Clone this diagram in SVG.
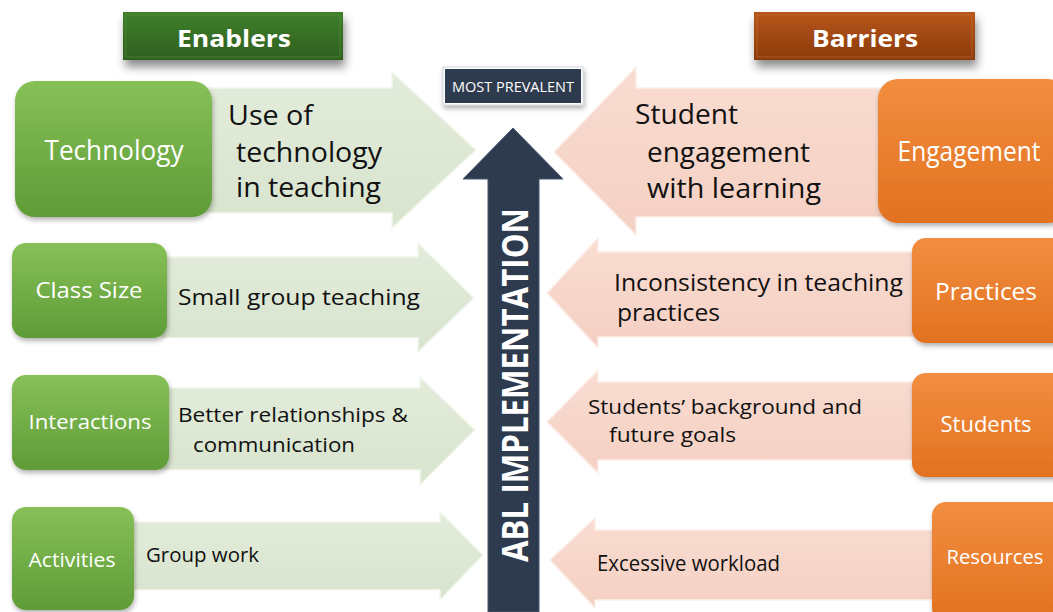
<svg xmlns="http://www.w3.org/2000/svg" width="1053" height="612" viewBox="0 0 1053 612">
<defs>
  <linearGradient id="gGreen" x1="0" y1="0" x2="0" y2="1">
    <stop offset="0" stop-color="#86c057"/>
    <stop offset="1" stop-color="#5f9c37"/>
  </linearGradient>
  <linearGradient id="gOrange" x1="0" y1="0" x2="0" y2="1">
    <stop offset="0" stop-color="#f28d40"/>
    <stop offset="1" stop-color="#e2721f"/>
  </linearGradient>
  <linearGradient id="gBanG" x1="0" y1="0" x2="0" y2="1">
    <stop offset="0" stop-color="#3f7f2c"/>
    <stop offset="1" stop-color="#2f5f1f"/>
  </linearGradient>
  <linearGradient id="gBanO" x1="0" y1="0" x2="0" y2="1">
    <stop offset="0" stop-color="#b7561a"/>
    <stop offset="1" stop-color="#8c3a0a"/>
  </linearGradient>
  <linearGradient id="gArrG" x1="0" y1="0" x2="0" y2="1">
    <stop offset="0" stop-color="#e3ecdb"/>
    <stop offset="1" stop-color="#d8e4ce"/>
  </linearGradient>
  <linearGradient id="gArrP" x1="0" y1="0" x2="0" y2="1">
    <stop offset="0" stop-color="#f9dcd1"/>
    <stop offset="1" stop-color="#f5d0c3"/>
  </linearGradient>
  <filter id="sh" x="-20%" y="-20%" width="140%" height="150%">
    <feDropShadow dx="1" dy="3" stdDeviation="2.5" flood-color="#000" flood-opacity="0.3"/>
  </filter>
  <filter id="shB" x="-20%" y="-30%" width="140%" height="180%">
    <feDropShadow dx="2" dy="7" stdDeviation="5" flood-color="#000" flood-opacity="0.45"/>
  </filter>
</defs>
<style>
  .gbox { fill: url(#gGreen); filter: url(#sh); }
  .obox { fill: url(#gOrange); filter: url(#sh); }
  .lbl { font-family: "Open Sans", "Noto Sans", sans-serif; fill: #ffffff; text-anchor: middle; }
  .txt { font-family: "Open Sans", "Noto Sans", sans-serif; fill: #111111; }
  .ban { font-family: "Open Sans", "Noto Sans", sans-serif; font-weight: bold; fill: #ffffff; text-anchor: middle; }
  .arrG { fill: url(#gArrG); stroke: #f3f7ee; stroke-width: 1.5; }
  .arrP { fill: url(#gArrP); stroke: #fcefe9; stroke-width: 1.5; }
</style>
<rect width="1053" height="612" fill="#ffffff"/>

<g id="connectors">
  <polygon class="arrG" points="200,88 392,88 392,72 476,150 392,228 392,213 200,213"/>
  <polygon class="arrG" points="160,257 418,257 418,243 474,298 418,352 418,338 160,338"/>
  <polygon class="arrG" points="160,388 420,388 420,377 475,430 420,485 420,470 160,470"/>
  <polygon class="arrG" points="125,522 440,522 440,512 483,555 440,600 440,590 125,590"/>

  <polygon class="arrP" points="890,88 636,88 636,67 554,152 636,235 636,217 890,217"/>
  <polygon class="arrP" points="920,252 598,252 598,238 547,293 598,348 598,337 920,337"/>
  <polygon class="arrP" points="920,382 598,382 598,370 547,422 598,473 598,460 920,460"/>
  <polygon class="arrP" points="940,530 595,530 595,518 550,560 595,608 595,600 940,600"/>
</g>

<g id="abl-arrow">
  <polygon points="513,128 563,179 539,179 539,612 488,612 488,179 463,179" fill="#2e3b4e" stroke="#4a5870" stroke-width="1"/>
  <text class="ban" transform="translate(528,385) rotate(-90)" x="0" y="0" font-size="35" textLength="354" lengthAdjust="spacingAndGlyphs">ABL IMPLEMENTATION</text>
</g>

<g id="most-prevalent">
  <rect x="443" y="67" width="140" height="38" fill="#ffffff" stroke="#d0d4da" stroke-width="1" filter="url(#sh)"/>
  <rect x="445" y="69" width="136" height="34" fill="#2e3b4e"/>
  <text class="lbl" x="513" y="92" font-size="14" textLength="122" lengthAdjust="spacingAndGlyphs">MOST PREVALENT</text>
</g>

<g id="enablers">
  <rect x="123" y="12" width="220" height="48" fill="url(#gBanG)" filter="url(#shB)"/>
  <rect x="126" y="15" width="214" height="42" fill="none" stroke="#5a9a40" stroke-opacity="0.5" stroke-width="1"/>
  <text class="ban" x="234" y="47" font-size="23" textLength="114" lengthAdjust="spacingAndGlyphs">Enablers</text>
</g>

<g id="barriers">
  <rect x="754" y="12" width="221" height="48" fill="url(#gBanO)" filter="url(#shB)"/>
  <rect x="757" y="15" width="215" height="42" fill="none" stroke="#d27a40" stroke-opacity="0.5" stroke-width="1"/>
  <text class="ban" x="865" y="47" font-size="23" textLength="106" lengthAdjust="spacingAndGlyphs">Barriers</text>
</g>

<g id="technology">
  <rect class="gbox" x="15" y="81" width="197" height="136" rx="20"/>
  <text class="lbl" x="114" y="160" font-size="27" textLength="139" lengthAdjust="spacingAndGlyphs">Technology</text>
</g>
<g id="use-of-technology">
  <text class="txt" x="228" y="125" font-size="27" textLength="85" lengthAdjust="spacingAndGlyphs">Use of</text>
  <text class="txt" x="236" y="162" font-size="27" textLength="146" lengthAdjust="spacingAndGlyphs">technology</text>
  <text class="txt" x="236" y="197" font-size="27" textLength="145" lengthAdjust="spacingAndGlyphs">in teaching</text>
</g>

<g id="class-size">
  <rect class="gbox" x="12" y="243" width="155" height="95" rx="14"/>
  <text class="lbl" x="89" y="298" font-size="22" textLength="107" lengthAdjust="spacingAndGlyphs">Class Size</text>
</g>
<g id="small-group">
  <text class="txt" x="178" y="305" font-size="22" textLength="242" lengthAdjust="spacingAndGlyphs">Small group teaching</text>
</g>

<g id="interactions">
  <rect class="gbox" x="12" y="375" width="157" height="95" rx="14"/>
  <text class="lbl" x="90" y="429" font-size="20" textLength="123" lengthAdjust="spacingAndGlyphs">Interactions</text>
</g>
<g id="better-relationships">
  <text class="txt" x="178" y="422" font-size="20" textLength="230" lengthAdjust="spacingAndGlyphs">Better relationships &amp;</text>
  <text class="txt" x="193" y="452" font-size="20" textLength="162" lengthAdjust="spacingAndGlyphs">communication</text>
</g>

<g id="activities">
  <rect class="gbox" x="12" y="507" width="122" height="103" rx="14"/>
  <text class="lbl" x="72" y="567" font-size="20" textLength="87" lengthAdjust="spacingAndGlyphs">Activities</text>
</g>
<g id="group-work">
  <text class="txt" x="146" y="562" font-size="20" textLength="113" lengthAdjust="spacingAndGlyphs">Group work</text>
</g>

<g id="engagement">
  <rect class="obox" x="878" y="79" width="190" height="144" rx="20"/>
  <text class="lbl" x="969" y="161" font-size="27" textLength="143" lengthAdjust="spacingAndGlyphs">Engagement</text>
</g>
<g id="student-engagement">
  <text class="txt" x="635" y="124" font-size="27" textLength="103" lengthAdjust="spacingAndGlyphs">Student</text>
  <text class="txt" x="647" y="162" font-size="27" textLength="163" lengthAdjust="spacingAndGlyphs">engagement</text>
  <text class="txt" x="647" y="198" font-size="27" textLength="174" lengthAdjust="spacingAndGlyphs">with learning</text>
</g>

<g id="practices">
  <rect class="obox" x="912" y="238" width="160" height="105" rx="14"/>
  <text class="lbl" x="986" y="300" font-size="23" textLength="102" lengthAdjust="spacingAndGlyphs">Practices</text>
</g>
<g id="inconsistency">
  <text class="txt" x="614" y="291" font-size="24" textLength="289" lengthAdjust="spacingAndGlyphs">Inconsistency in teaching</text>
  <text class="txt" x="617" y="321" font-size="24" textLength="103" lengthAdjust="spacingAndGlyphs">practices</text>
</g>

<g id="students">
  <rect class="obox" x="912" y="373" width="160" height="104" rx="14"/>
  <text class="lbl" x="986" y="432" font-size="21" textLength="91" lengthAdjust="spacingAndGlyphs">Students</text>
</g>
<g id="students-background">
  <text class="txt" x="588" y="414" font-size="20" textLength="274" lengthAdjust="spacingAndGlyphs">Students’ background and</text>
  <text class="txt" x="609" y="442" font-size="20" textLength="127" lengthAdjust="spacingAndGlyphs">future goals</text>
</g>

<g id="resources">
  <rect class="obox" x="932" y="502" width="140" height="120" rx="14"/>
  <text class="lbl" x="995" y="564" font-size="20" textLength="97" lengthAdjust="spacingAndGlyphs">Resources</text>
</g>
<g id="excessive-workload">
  <text class="txt" x="597" y="571" font-size="21" textLength="183" lengthAdjust="spacingAndGlyphs">Excessive workload</text>
</g>
</svg>
